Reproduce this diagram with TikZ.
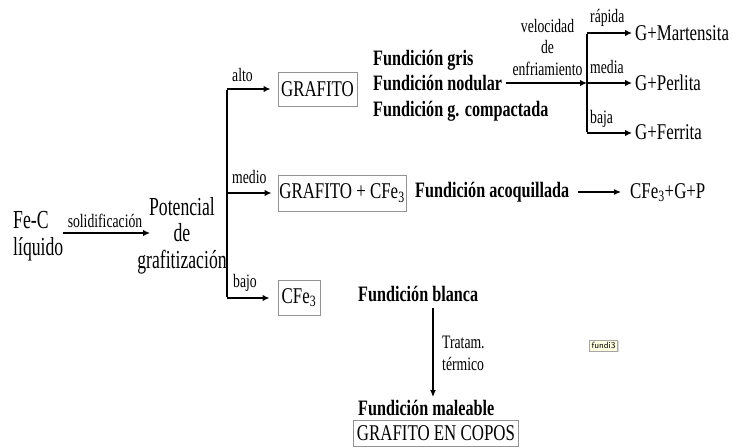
\documentclass[tikz,border=0pt]{standalone}
\usepackage{fontspec}
\setmainfont{Liberation Serif}
\newfontfamily\fbigfam[FakeStretch=0.68]{Liberation Serif}
\newfontfamily\fmedfam[FakeStretch=0.75]{Liberation Serif}
\newfontfamily\fbldfam[FakeStretch=0.735]{Liberation Serif}
\newfontfamily\fsmlfam[FakeStretch=0.72]{Liberation Serif}
\usetikzlibrary{arrows.meta,shadows}
\begin{document}
\begin{tikzpicture}[x=1pt,y=-1pt,
  big/.style={font=\fbigfam\fontsize{26}{27}\selectfont, inner sep=0pt, anchor=base west},
  med/.style={font=\fmedfam\fontsize{22.5}{26}\selectfont, inner sep=0pt, anchor=base west},
  bld/.style={font=\fbldfam\bfseries\fontsize{22}{26}\selectfont, inner sep=0pt, anchor=base west},
  sml/.style={font=\fsmlfam\fontsize{19}{20}\selectfont, inner sep=0pt, anchor=base west},
  boxed/.style={draw=gray!85, line width=0.9pt, inner sep=0pt, font=\fmedfam\fontsize{22.5}{26}\selectfont, anchor=center},
  arr/.style={-{Latex[length=7pt,width=6.5pt]}, line width=1.7pt},
  tarr/.style={-{Latex[length=7pt,width=6pt]}, line width=1.2pt},
  ln/.style={line width=1.7pt}
]
\useasboundingbox (0,0) rectangle (733,447);
\fill[white] (0,0) rectangle (733,447);

% left part
\node[big] (fec1) at (13,228) {Fe-C};
\node[big] (fec2) at (13,255) {líquido};
\coordinate (s0) at (63,233);
\coordinate (s1) at (150,233);
\draw[arr] (s0) -- (s1);
\node[sml, anchor=base] (solid) at (105,227) {solidificación};

\node[big, anchor=base] (pot1) at (182,215) {Potencial};
\node[big, anchor=base] (pot2) at (182,241.5) {de};
\node[big, anchor=base] (pot3) at (182,268) {grafitización};

% branching
\coordinate (vt) at (227,89);
\coordinate (vm) at (227,193);
\coordinate (vb) at (227,298);
\draw[ln] ([yshift=-0.85pt]vt) -- ([yshift=0.85pt]vb);

\node[boxed, minimum width=79pt, minimum height=34pt] (gr) at (317.5,89) {GRAFITO};
\node[boxed, minimum width=128pt, minimum height=36pt] (grc) at (342,193) {GRAFITO + CFe\textsubscript{3}};
\node[boxed, minimum width=42pt, minimum height=35pt] (cfe) at (299,297.5) {CFe\textsubscript{3}};

\draw[arr] (vt) -- ([xshift=-7pt]gr.west |- vt);
\draw[arr] (vm) -- ([xshift=-6pt]grc.west |- vm);
\draw[arr] (vb) -- ([xshift=-8pt]cfe.west |- vb);
\node[sml] (alto) at (232,81) {alto};
\node[sml] (medio) at (232,183) {medio};
\node[sml] (bajo) at (233,287) {bajo};

% upper branch
\node[bld] (f1) at (373,65) {Fundición gris};
\node[bld] (f2) at (373,90.5) {Fundición nodular};
\node[bld] (f3) at (373,116) {Fundición g. compactada};

\coordinate (v0) at (506,83);
\coordinate (v1) at (587,83);
\draw[arr] (v0) -- (v1);
\node[sml, anchor=base] (vel1) at (547.5,32) {velocidad};
\node[sml, anchor=base] (vel2) at (547.5,53) {de};
\node[sml, anchor=base] (vel3) at (547.5,75) {enfriamiento};

\coordinate (wt) at (587,33);
\coordinate (wm) at (587,83);
\coordinate (wb) at (587,133);
\draw[ln] ([yshift=-0.85pt]wt) -- ([yshift=0.85pt]wb);
\node[med] (gm) at (635,40) {G+Martensita};
\node[med] (gp) at (635,90) {G+Perlita};
\node[med] (gf) at (635,139) {G+Ferrita};
\draw[arr] (wt) -- ([xshift=-3pt]gm.west |- wt);
\draw[arr] (wm) -- ([xshift=-3pt]gp.west |- wm);
\draw[arr] (wb) -- ([xshift=-3pt]gf.west |- wb);
\node[sml] (rap) at (590,22) {rápida};
\node[sml] (med) at (590,73) {media};
\node[sml] (baj) at (590,123) {baja};

% middle branch
\node[bld] (aco) at (415,197) {Fundición acoquillada};
\node[med] (cgp) at (630,198) {CFe\textsubscript{3}+G+P};
\coordinate (a0) at (578,192);
\coordinate (a1) at (621,192);
\draw[tarr] (a0) -- (a1);

% lower branch
\node[bld] (fb) at (358,301) {Fundición blanca};
\coordinate (t0) at (433,308);
\coordinate (t1) at (433,397);
\draw[tarr] (t0) -- (t1);
\node[sml] (tr1) at (442,348) {Tratam.};
\node[sml] (tr2) at (442,370) {térmico};
\node[bld] (fm) at (358,415) {Fundición maleable};
\node[boxed, minimum width=165pt, minimum height=26pt, anchor=north west, text depth=1pt] (gec) at (353,420) {GRAFITO EN COPOS};

% tooltip tag
\node[draw=gray!70, fill={rgb,255:red,255;green,255;blue,225}, line width=0.5pt, inner sep=2pt,
      drop shadow={shadow xshift=1.2pt, shadow yshift=-1.2pt, fill=gray!60},
      font=\sffamily\fontsize{9}{10}\selectfont] (tag) at (603.5,345.5) {fundi3};
\end{tikzpicture}
\end{document}
